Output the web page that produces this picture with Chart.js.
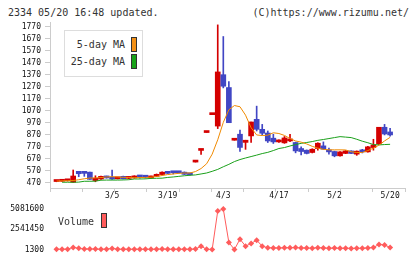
<!DOCTYPE html>
<html>
<head>
<meta charset="utf-8">
<script src="https://cdn.jsdelivr.net/npm/chart.js@4.4.0/dist/chart.umd.min.js"></script>
<style>
body { margin: 0; background: #fff; }
#wrap { position: relative; width: 420px; height: 259px; overflow: hidden; font-family: "DejaVu Sans Mono", monospace; color: #333; }
#wrap canvas { position: absolute; }
.t { position: absolute; font-size: 10px; line-height: 12px; white-space: pre; }
.sw { position: absolute; width: 6px; height: 15px; border: 1px solid #333; box-sizing: border-box; }
</style>
</head>
<body>
<div id="wrap">
  <div class="t" style="left:8px;top:7px">2334 05/20 16:48 updated.</div>
  <div class="t" style="right:11px;top:7px">(C)https://www.rizumu.net/</div>
  <canvas id="priceChart" width="420" height="200" style="left:0;top:0"></canvas>
  <canvas id="volChart" width="420" height="74" style="left:0;top:190px"></canvas>
  <div style="position:absolute;left:64px;top:30px;width:79px;height:47px;border:1px solid #ddd;box-sizing:border-box;background:#fff"></div>
  <div class="t" style="left:64px;width:61px;text-align:right;top:39px">5-day MA</div>
  <div class="t" style="left:64px;width:61px;text-align:right;top:56px">25-day MA</div>
  <div class="sw" style="left:131px;top:37px;background:#f39016"></div>
  <div class="sw" style="left:131px;top:54px;background:#19a319"></div>
  <div class="t" style="left:58px;top:216px">Volume</div>
  <div class="sw" style="left:101px;top:213px;background:#ff5c5c"></div>
</div>
<script>
const dates = ["2/19", "2/20", "2/21", "2/22", "2/26", "2/27", "2/28", "2/29", "3/1", "3/4",
    "3/5", "3/6", "3/7", "3/8", "3/11", "3/12", "3/13", "3/14", "3/15", "3/18",
    "3/19", "3/21", "3/22", "3/25", "3/26", "3/27", "3/28", "3/29", "4/1", "4/2",
    "4/3", "4/4", "4/5", "4/8", "4/9", "4/10", "4/11", "4/12", "4/15", "4/16",
    "4/17", "4/18", "4/19", "4/22", "4/23", "4/24", "4/25", "4/26", "4/30", "5/1",
    "5/2", "5/7", "5/8", "5/9", "5/10", "5/13", "5/14", "5/15", "5/16", "5/17", "5/20"];

const openP = [482, 484, 488, 476, 567, 560, 560, 490, 503, 525,
    517, 505, 525, 508, 512, 525, 523, 512, 525, 540,
    560, 560, 560, 560, 548, 644, 741, 890, 1039, 944,
    1372, 1265, 826, 876, 808, 862, 1000, 917, 886, 843,
    812, 804, 820, 807, 757, 743, 724, 757, 779, 746,
    732, 696, 716, 737, 710, 740, 729, 765, 795, 934, 895];
const highP = [488, 495, 500, 578, 567, 560, 560, 530, 528, 527,
    578, 515, 527, 520, 530, 526, 525, 527, 545, 562,
    562, 563, 562, 562, 550, 644, 741, 890, 1039, 1787,
    1690, 1315, 826, 911, 826, 978, 1110, 958, 903, 876,
    830, 857, 876, 810, 770, 745, 755, 805, 812, 760,
    735, 732, 740, 738, 737, 750, 775, 834, 934, 958, 925];
const lowP = [480, 482, 486, 475, 522, 525, 500, 480, 500, 510,
    500, 503, 503, 505, 510, 510, 510, 510, 523, 538,
    548, 545, 552, 540, 535, 644, 708, 890, 1039, 923,
    1262, 972, 826, 732, 750, 807, 903, 870, 807, 799,
    808, 800, 815, 721, 704, 712, 720, 743, 750, 710,
    688, 694, 714, 714, 700, 720, 727, 743, 790, 870, 860];
const closeP = [488, 495, 495, 528, 547, 550, 500, 510, 525, 512,
    503, 512, 505, 518, 522, 520, 518, 525, 540, 560,
    550, 555, 555, 542, 538, 644, 741, 890, 1039, 1395,
    1276, 972, 826, 766, 826, 978, 917, 884, 820, 812,
    828, 845, 837, 737, 732, 716, 751, 801, 751, 729,
    696, 729, 737, 716, 735, 729, 771, 787, 934, 878, 870];

const ma5 = [486, 487, 489, 490, 497, 505, 511, 512, 515, 520,
    522, 520, 517, 515, 514, 515, 516, 518, 524, 532,
    540, 545, 550, 553, 553, 565, 590, 630, 710, 830,
    975, 1080, 1115, 1105, 1035, 930, 870, 865, 868, 888,
    882, 866, 840, 820, 810, 795, 775, 760, 750, 746,
    746, 746, 745, 730, 724, 724, 740, 760, 785, 820, 850];
const ma25 = [null, 476, 476, 476, 477, 484, 484, 485, 493, 494,
    494, 494, 495, 497, 503, 503, 504, 508, 509, 510,
    516, 520, 525, 530, 534, 537, 545, 553, 567, 583,
    605, 625, 648, 665, 678, 690, 702, 715, 725, 740,
    757, 765, 778, 790, 800, 807, 815, 825, 832, 840,
    848, 856, 852, 848, 834, 818, 805, 790, 787, 790, 792];

const volume = [30000, 45000, 40000, 260000, 150000, 60000, 70000, 50000, 45000, 40000,
    140000, 40000, 35000, 30000, 40000, 30000, 35000, 30000, 45000, 60000,
    40000, 30000, 35000, 40000, 30000, 60000, 420000, 20000, 15000, 4830000,
    5081600, 880000, 1300, 1300000, 420000, 760000, 1170000, 420000, 220000, 200000,
    180000, 230000, 210000, 240000, 200000, 180000, 170000, 230000, 190000, 160000,
    180000, 150000, 170000, 140000, 160000, 150000, 200000, 250000, 640000, 560000, 260000];

const priceTicks = [470, 570, 670, 770, 870, 970, 1070, 1170, 1270, 1370, 1470, 1570, 1670, 1770];
const volumeTicks = [1300, 2541450, 5081600];
const dateTicks = ["3/5", "3/19", "4/3", "4/17", "5/2", "5/20"];

const RED = "#d40000";
const BLUE = "#4146c4";
const ORANGE = "#f08a00";
const GREEN = "#1aa01a";
const PINK = "#ff5c5c";
const tickFont = { family: "DejaVu Sans Mono", size: 8 };
const xMin = -1.17, xMax = 62.68; // index range across the plot width

const candleColor = closeP.map((c, i) => (c >= openP[i] ? RED : BLUE));
const bodies = dates.map((d, i) => ({ x: i, y: [openP[i], closeP[i]] }));
const wicks = dates.map((d, i) => ({ x: i, y: [lowP[i], highP[i]] }));

new Chart(document.getElementById("priceChart"), {
    type: "bar",
    data: {
        datasets: [
            { type: "line", data: ma5.map((v, i) => ({ x: i, y: v })), borderColor: ORANGE, borderWidth: 1, pointRadius: 0, order: 0 },
            { type: "line", data: ma25.map((v, i) => ({ x: i, y: v })), borderColor: GREEN, borderWidth: 1, pointRadius: 0, order: 0 },
            { data: bodies, backgroundColor: candleColor, barThickness: 5, minBarLength: 2, grouped: false, order: 1 },
            { data: wicks, backgroundColor: candleColor, barThickness: 1, grouped: false, order: 2 },
        ],
    },
    options: {
        responsive: false,
        animation: false,
        layout: { padding: { top: 22, right: 15, left: 0, bottom: 0 } },
        plugins: { legend: { display: false }, tooltip: { enabled: false } },
        scales: {
            x: {
                type: "linear",
                min: xMin,
                max: xMax,
                offset: false,
                grid: { drawOnChartArea: false, color: "#ccc", tickLength: 4, offset: false },
                border: { color: "#ccc" },
                ticks: { display: false },
                afterBuildTicks: (ax) => {
                    // evenly spaced tick marks along the bottom axis
                    ax.ticks = Array.from({ length: 12 }, (_, k) => ({ value: xMin + (k * (xMax - xMin)) / 11 }));
                },
                afterFit: (ax) => { ax.height = 12; },
            },
            y: {
                min: 428,
                max: 1811,
                grid: { drawOnChartArea: false, color: "#ccc", tickLength: 5 },
                border: { color: "#ccc" },
                ticks: { font: tickFont, color: "#111", padding: 4, callback: (v) => String(v) },
                afterBuildTicks: (ax) => { ax.ticks = priceTicks.map((v) => ({ value: v })); },
                afterFit: (ax) => { ax.width = 50; },
            },
        },
    },
});

new Chart(document.getElementById("volChart"), {
    type: "line",
    data: {
        datasets: [{
            data: volume.map((v, i) => ({ x: i, y: v })),
            borderColor: PINK,
            backgroundColor: PINK,
            borderWidth: 1,
            pointStyle: "rectRot",
            pointRadius: 3,
            pointBorderWidth: 0,
            clip: false,
        }],
    },
    options: {
        responsive: false,
        animation: false,
        layout: { padding: { top: 0, right: 15, left: 0, bottom: 0 } },
        plugins: { legend: { display: false }, tooltip: { enabled: false } },
        scales: {
            x: {
                type: "linear",
                position: "top",
                min: xMin,
                max: xMax,
                grid: { display: false, drawTicks: false },
                border: { display: false },
                ticks: { font: tickFont, color: "#111", padding: 4, maxRotation: 0, autoSkip: false, callback: (v) => dates[v] },
                afterBuildTicks: (ax) => { ax.ticks = dateTicks.map((d) => ({ value: dates.indexOf(d) })); },
                afterFit: (ax) => { ax.height = 15; },
            },
            y: {
                min: -465000,
                max: 5586000,
                grid: { display: false, drawTicks: false },
                border: { display: false },
                ticks: { font: tickFont, color: "#111", padding: 6, callback: (v) => String(v) },
                afterBuildTicks: (ax) => { ax.ticks = volumeTicks.map((v) => ({ value: v })); },
                afterFit: (ax) => { ax.width = 50; },
            },
        },
    },
});
</script>
</body>
</html>
